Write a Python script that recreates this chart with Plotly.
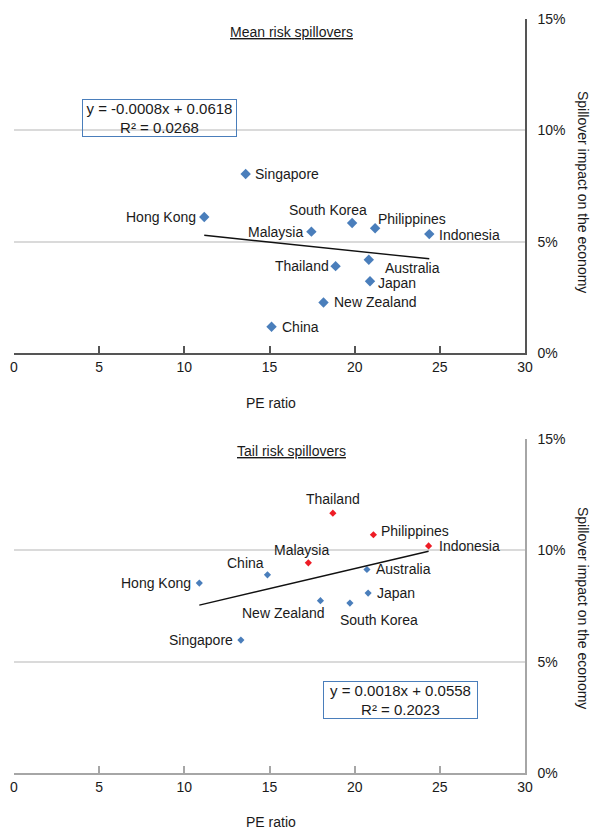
import plotly.graph_objects as go
from plotly.subplots import make_subplots

# ---------------- data ----------------
mean_countries = ["Singapore", "Hong Kong", "South Korea", "Philippines", "Malaysia",
                  "Indonesia", "Australia", "Thailand", "Japan", "New Zealand", "China"]
mean_pe = [13.6, 11.17, 19.85, 21.2, 17.46, 24.38, 20.83, 18.88, 20.9, 18.17, 15.12]
mean_spill = [0.0804, 0.0611, 0.0584, 0.0560, 0.0545, 0.0534, 0.0419, 0.0390, 0.0322, 0.0227, 0.0118]
mean_fit = {"slope": -0.0008, "intercept": 0.0618, "r2": 0.0268}

tail_countries = ["Thailand", "Philippines", "Indonesia", "Malaysia", "Australia", "China",
                  "Hong Kong", "Japan", "New Zealand", "South Korea", "Singapore"]
tail_pe = [18.72, 21.1, 24.34, 17.28, 20.72, 14.88, 10.88, 20.79, 17.99, 19.72, 13.32]
tail_spill = [0.1167, 0.1070, 0.1020, 0.0944, 0.0914, 0.0890, 0.0853, 0.0808, 0.0774, 0.0763, 0.0597]
tail_highlight = [True, True, True, True, False, False, False, False, False, False, False]
tail_fit = {"slope": 0.0018, "intercept": 0.0558, "r2": 0.2023}

x_ticks = [0, 5, 10, 15, 20, 25, 30]
y_ticks = [0, 0.05, 0.10, 0.15]
y_ticktext = ["0%", "5%", "10%", "15%"]

# ---------------- styles ----------------
BLUE = "#4a7ebb"
RED = "#ee1c25"
FONT = "Liberation Sans, Arial, Helvetica, sans-serif"
TXT = "#1a1a1a"

# label placement: (xanchor, xshift, yshift)
mean_pos = {
    "Singapore": ("left", 7, 0), "Hong Kong": ("right", -6, 0), "South Korea": ("center", -24, 13),
    "Philippines": ("left", 1, 9), "Malaysia": ("right", -6, 0), "Indonesia": ("left", 8, -1),
    "Australia": ("left", 14, -8), "Thailand": ("right", -5, 0), "Japan": ("left", 6, -2),
    "New Zealand": ("left", 8, 0), "China": ("left", 8, 0),
}
tail_pos = {
    "Thailand": ("center", 0, 14), "Philippines": ("left", 6, 4), "Indonesia": ("left", 8, 0),
    "Malaysia": ("center", -7, 13), "Australia": ("left", 7, 0), "China": ("center", -22, 12),
    "Hong Kong": ("right", -6, 0), "Japan": ("left", 7, 0), "New Zealand": ("center", -37, -12),
    "South Korea": ("center", 29, -17), "Singapore": ("right", -6, 0),
}

W, H = 593, 829
ML, MR, MT, MB = 14, 68, 19, 56
ph = H - MT - MB
pw = W - ML - MR
top_h = 334

fig = make_subplots(rows=2, cols=1, vertical_spacing=0)
fig.update_layout(
    yaxis=dict(domain=[1 - top_h / ph, 1]),
    yaxis2=dict(domain=[0, top_h / ph]),
)

# top scatter
fig.add_trace(go.Scatter(x=mean_pe, y=mean_spill, mode="markers",
                         marker=dict(symbol="diamond", size=8, color=BLUE),
                         hoverinfo="skip", showlegend=False), row=1, col=1)
xm = [min(mean_pe), max(mean_pe)]
fig.add_trace(go.Scatter(x=xm, y=[mean_fit["slope"] * v + mean_fit["intercept"] for v in xm],
                         mode="lines", line=dict(color="#111111", width=1.4),
                         hoverinfo="skip", showlegend=False), row=1, col=1)

# bottom scatter
fig.add_trace(go.Scatter(x=tail_pe, y=tail_spill, mode="markers",
                         marker=dict(symbol="diamond", size=5.5,
                                     color=[RED if h else BLUE for h in tail_highlight]),
                         hoverinfo="skip", showlegend=False), row=2, col=1)
xt = [min(tail_pe), max(tail_pe)]
fig.add_trace(go.Scatter(x=xt, y=[tail_fit["slope"] * v + tail_fit["intercept"] for v in xt],
                         mode="lines", line=dict(color="#111111", width=1.4),
                         hoverinfo="skip", showlegend=False), row=2, col=1)

annotations = []
for name, xv, yv in zip(mean_countries, mean_pe, mean_spill):
    xa, xs, ys = mean_pos[name]
    annotations.append(dict(x=xv, y=yv, xref="x", yref="y", text=name, showarrow=False,
                            xanchor=xa, yanchor="middle", xshift=xs, yshift=ys,
                            font=dict(size=14, color=TXT, family=FONT)))
for name, xv, yv in zip(tail_countries, tail_pe, tail_spill):
    xa, xs, ys = tail_pos[name]
    annotations.append(dict(x=xv, y=yv, xref="x2", yref="y2", text=name, showarrow=False,
                            xanchor=xa, yanchor="middle", xshift=xs, yshift=ys,
                            font=dict(size=14, color=TXT, family=FONT)))


def eq_text(fit):
    s = fit["slope"]
    sign = "-" if s < 0 else ""
    return f"y = {sign}{abs(s):.4f}x + {fit['intercept']:.4f}<br>R² = {fit['r2']:.4f}"


for xv, yv, xr, yr, fit in ((8.57, 0.1057, "x", "y", mean_fit), (22.67, 0.0329, "x2", "y2", tail_fit)):
    annotations.append(dict(x=xv, y=yv, xref=xr, yref=yr, text=eq_text(fit),
                            showarrow=False, align="center", valign="middle",
                            xanchor="center", yanchor="middle", width=151, height=34,
                            bordercolor=BLUE, borderwidth=1, borderpad=1,
                            font=dict(size=15, color=TXT, family=FONT)))

# titles
annotations.append(dict(x=16.27, y=0.1443, xref="x", yref="y", text="<u>Mean risk spillovers</u>",
                        showarrow=False, xanchor="center", yanchor="middle",
                        font=dict(size=14, color=TXT, family=FONT)))
annotations.append(dict(x=16.27, y=0.1447, xref="x2", yref="y2", text="<u>Tail risk spillovers</u>",
                        showarrow=False, xanchor="center", yanchor="middle",
                        font=dict(size=14, color=TXT, family=FONT)))

# axis titles
for ypx in (192, 608):
    annotations.append(dict(x=(583 - ML) / pw, y=(H - MB - ypx) / ph, xref="paper", yref="paper",
                            text="Spillover impact on the economy", textangle=90, showarrow=False,
                            xanchor="center", yanchor="middle",
                            font=dict(size=14, color=TXT, family=FONT)))
for ypx in (403, 822):
    annotations.append(dict(x=(271 - ML) / pw, y=(H - MB - ypx) / ph, xref="paper", yref="paper",
                            text="PE ratio", showarrow=False, xanchor="center", yanchor="middle",
                            font=dict(size=14, color=TXT, family=FONT)))

fig.update_layout(annotations=annotations)

for i, axcol in ((1, "#555555"), (2, "#a6a6a6")):
    fig.update_xaxes(row=i, col=1, range=[0, 30], tickvals=x_ticks, showgrid=False, zeroline=False,
                     showline=True, linecolor=axcol, linewidth=1.5, ticks="inside", ticklen=7,
                     tickcolor=axcol, tickwidth=1.5,
                     tickfont=dict(size=14, color=TXT, family=FONT))
    fig.update_yaxes(row=i, col=1, range=[0, 0.15], side="right", tickvals=y_ticks,
                     ticktext=y_ticktext, showgrid=True, gridcolor="#dadada", gridwidth=1.5,
                     zeroline=False, showline=True, linecolor=axcol, linewidth=1.5,
                     ticks="", ticklabelstandoff=8,
                     tickfont=dict(size=14, color=TXT, family=FONT))

fig.update_layout(width=W, height=H, margin=dict(l=ML, r=MR, t=MT, b=MB, autoexpand=False),
                  paper_bgcolor="white", plot_bgcolor="white",
                  font=dict(family=FONT, color=TXT))

fig.write_html("out.html", config={"displayModeBar": False},
               post_script="document.body.style.margin='0';document.body.style.overflow='hidden';")
